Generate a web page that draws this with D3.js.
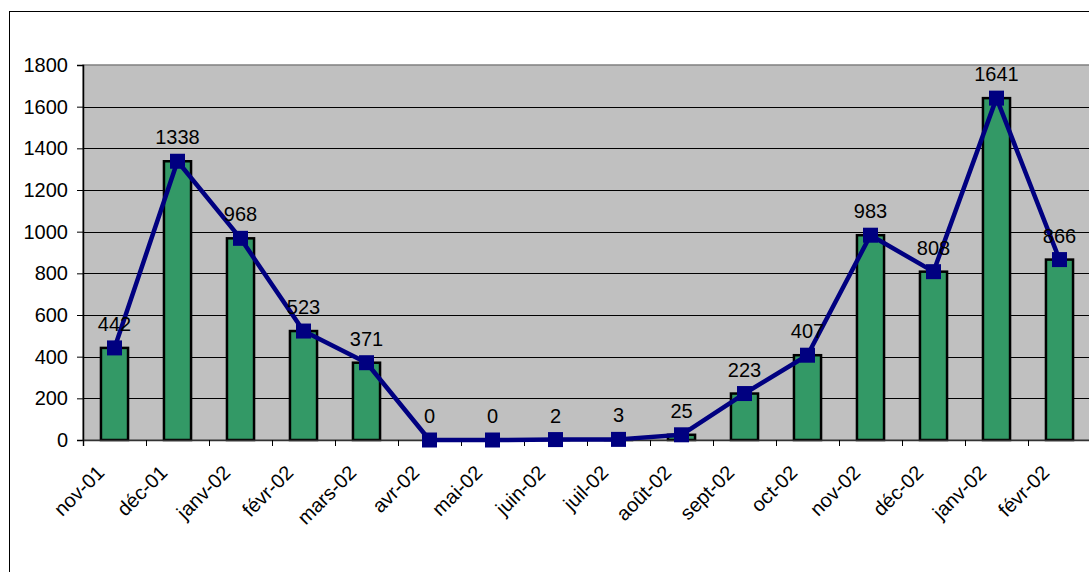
<!DOCTYPE html>
<html>
<head>
<meta charset="utf-8">
<script src="https://cdn.jsdelivr.net/npm/d3@7"></script>
<style>
  html, body { margin: 0; padding: 0; background: #ffffff; }
  svg { display: block; }
  text { font-family: "Liberation Sans", Arial, sans-serif; fill: #000; }
</style>
</head>
<body>
<script>
const categories = ["nov-01","déc-01","janv-02","févr-02","mars-02","avr-02","mai-02","juin-02","juil-02","août-02","sept-02","oct-02","nov-02","déc-02","janv-02","févr-02"];
const values = [442,1338,968,523,371,0,0,2,3,25,223,407,983,808,1641,866];
const yTicks = [0,200,400,600,800,1000,1200,1400,1600,1800];

const W = 1089, H = 572;
const plot = { left: 83, top: 65, right: 1091, bottom: 440 };

const svg = d3.select("body").append("svg").attr("width", W).attr("height", H);

// outer chart border
svg.append("rect").attr("x", 9.5).attr("y", 11.5).attr("width", W + 10).attr("height", H + 10)
  .attr("fill", "#fff").attr("stroke", "#000").attr("stroke-width", 1);

const idx = categories.map((d, i) => i);
const x = d3.scaleBand().domain(idx).range([plot.left, plot.right]).paddingInner(0.57).paddingOuter(0.285);
const xStep = d3.scaleLinear().domain([0, categories.length]).range([plot.left, plot.right]);
const y = d3.scaleLinear().domain([0, 1800]).range([plot.bottom, plot.top]);

// plot background
svg.append("rect").attr("x", plot.left).attr("y", plot.top)
  .attr("width", plot.right - plot.left).attr("height", plot.bottom - plot.top)
  .attr("fill", "#C0C0C0").attr("stroke", "#808080").attr("stroke-width", 1.5);

// gridlines
svg.append("g").selectAll("line").data(yTicks.filter(v => v > 0 && v < 1800)).join("line")
  .attr("x1", plot.left).attr("x2", plot.right)
  .attr("y1", d => Math.round(y(d)) + 0.5).attr("y2", d => Math.round(y(d)) + 0.5)
  .attr("stroke", "#000").attr("stroke-width", 1);

// bars
const cx = i => x(i) + x.bandwidth() / 2;
svg.append("g").selectAll("rect").data(values).join("rect")
  .attr("x", (d, i) => x(i))
  .attr("y", d => y(d))
  .attr("width", x.bandwidth())
  .attr("height", d => y(0) - y(d))
  .attr("fill", "#339966").attr("stroke", "#000").attr("stroke-width", 2.5);

// y axis
const yAxis = d3.axisLeft(y).tickValues(yTicks).tickSize(6).tickPadding(9).tickFormat(d3.format("d"));
const gy = svg.append("g").attr("transform", `translate(${plot.left},0)`).call(yAxis);
gy.select(".domain").attr("stroke", "#000").attr("stroke-width", 1.5);
gy.selectAll(".tick line").attr("stroke", "#000");
gy.selectAll(".tick text").style("font-size", "20px").style("font-family", "Liberation Sans, Arial, sans-serif").attr("fill", "#000");

// x axis line and ticks at category boundaries
const xAxis = d3.axisBottom(xStep).tickValues(d3.range(categories.length + 1)).tickSize(6).tickFormat("");
const gx = svg.append("g").attr("transform", `translate(0,${plot.bottom})`).call(xAxis);
gx.select(".domain").attr("stroke", "#333").attr("stroke-width", 1.5);
gx.selectAll(".tick line").attr("stroke", "#000");

// x labels rotated
svg.append("g").selectAll("text").data(categories).join("text")
  .attr("transform", (d, i) => `translate(${cx(i) - 9},${plot.bottom + 34}) rotate(-45)`)
  .attr("text-anchor", "end")
  .style("font-size", "20px")
  .text(d => d);

// line
const line = d3.line().x((d, i) => cx(i)).y(d => y(d));
svg.append("path").datum(values).attr("d", line)
  .attr("fill", "none").attr("stroke", "#000080").attr("stroke-width", 4.5).attr("stroke-linejoin", "round");

// markers
const ms = 15;
svg.append("g").selectAll("rect").data(values).join("rect")
  .attr("x", (d, i) => cx(i) - ms / 2).attr("y", d => y(d) - ms / 2)
  .attr("width", ms).attr("height", ms)
  .attr("fill", "#000080");

// data labels
svg.append("g").selectAll("text").data(values).join("text")
  .attr("x", (d, i) => cx(i)).attr("y", d => y(d) - 17)
  .attr("text-anchor", "middle")
  .style("font-size", "20px")
  .text(d => d);
</script>
</body>
</html>
